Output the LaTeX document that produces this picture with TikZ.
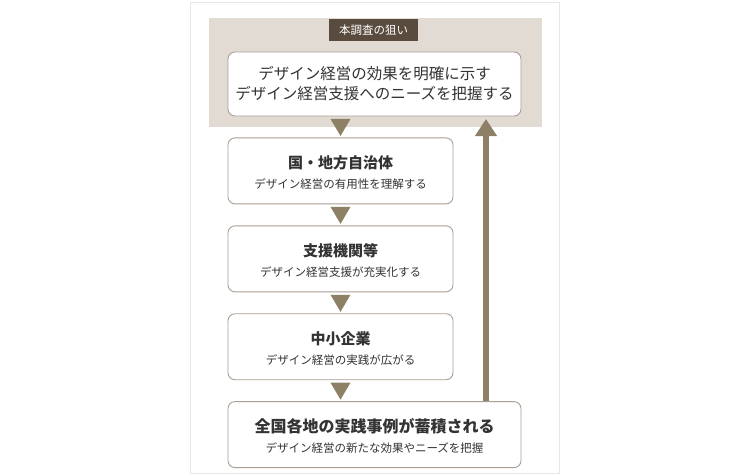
\documentclass[tikz,border=0pt]{standalone}
\usepackage{fontspec}
\setmainfont{Noto Sans CJK JP}
\usepackage{tikz}
\usetikzlibrary{positioning, arrows.meta}

\definecolor{bandcol}{HTML}{E1DBD4}
\definecolor{labelcol}{HTML}{5A4B3F}
\definecolor{edgecol}{HTML}{A89F95}
\definecolor{tricol}{HTML}{8E8067}
\definecolor{textcol}{HTML}{333333}
\definecolor{framecol}{HTML}{E6E6E6}

\begin{document}
\begin{tikzpicture}[x=1pt, y=-1pt, text=textcol,
    stage box/.style={draw=edgecol, line width=0.9pt, fill=white, rounded corners=7pt,
      minimum width=225pt, minimum height=66pt, inner sep=0pt},
    wide box/.style={stage box, minimum width=293pt},
    head text/.style={inner sep=0pt, font=\fontsize{15}{18}\selectfont\bfseries},
    sub text/.style={inner sep=0pt, font=\fontsize{11.5}{14}\selectfont},
    tri/.style={fill=tricol},
    up arrow/.style={draw=tricol, line width=6pt, -{Triangle[width=21pt, length=17pt]}}]

  \useasboundingbox (0,0) rectangle (750,475);

  % Frame and band
  \draw[framecol, line width=1pt, fill=white] (190,2) rectangle (559,473);
  \fill[bandcol] (209,18) rectangle (542,127);

  % Aim of the survey
  \node[fill=labelcol, text=white, minimum width=89pt, minimum height=22pt, inner sep=0pt,
    font=\fontsize{11.5}{14}\selectfont] (aim) at (373.5,30) {本調査の狙い};
  \node[wide box, minimum height=64pt] (b1) at (374.5,84) {};
  \node[inner sep=0pt, align=center, font=\fontsize{15.5}{20}\selectfont] (b1t) at (b1.center)
    {デザイン経営の効果を明確に示す\\デザイン経営支援へのニーズを把握する};

  % Stages
  \node[stage box, below right=21pt and 0pt of b1.south west] (b2) {};
  \node[stage box, below=21pt of b2] (b3) {};
  \node[stage box, below=21pt of b3] (b4) {};
  \node[wide box, below right=21pt and 0pt of b4.south west] (b5) {};

  \node[head text] (b2h) at ([yshift=8pt]b2.center) {国・地方自治体};
  \node[sub text] (b2s) at ([yshift=-13pt]b2.center) {デザイン経営の有用性を理解する};
  \node[head text] (b3h) at ([yshift=8pt]b3.center) {支援機関等};
  \node[sub text] (b3s) at ([yshift=-13pt]b3.center) {デザイン経営支援が充実化する};
  \node[head text] (b4h) at ([yshift=8pt]b4.center) {中小企業};
  \node[sub text] (b4s) at ([yshift=-13pt]b4.center) {デザイン経営の実践が広がる};
  \node[head text, font=\fontsize{16}{18}\selectfont\bfseries] (b5h) at ([yshift=8pt]b5.center) {全国各地の実践事例が蓄積される};
  \node[sub text] (b5s) at ([yshift=-13pt]b5.center) {デザイン経営の新たな効果やニーズを把握};

  % Down triangles
  \foreach \a in {b1,b2,b3,b4}
    \fill[tri] ([yshift=-2.5pt]\a.south -| b2.center) ++(-10pt,0pt) -- ++(20pt,0pt) -- ++(-10pt,-17pt) -- cycle;

  % Feedback arrow
  \coordinate (uptip) at (486,119);
  \draw[up arrow] (b5.north -| uptip) -- (uptip);
\end{tikzpicture}
\end{document}
